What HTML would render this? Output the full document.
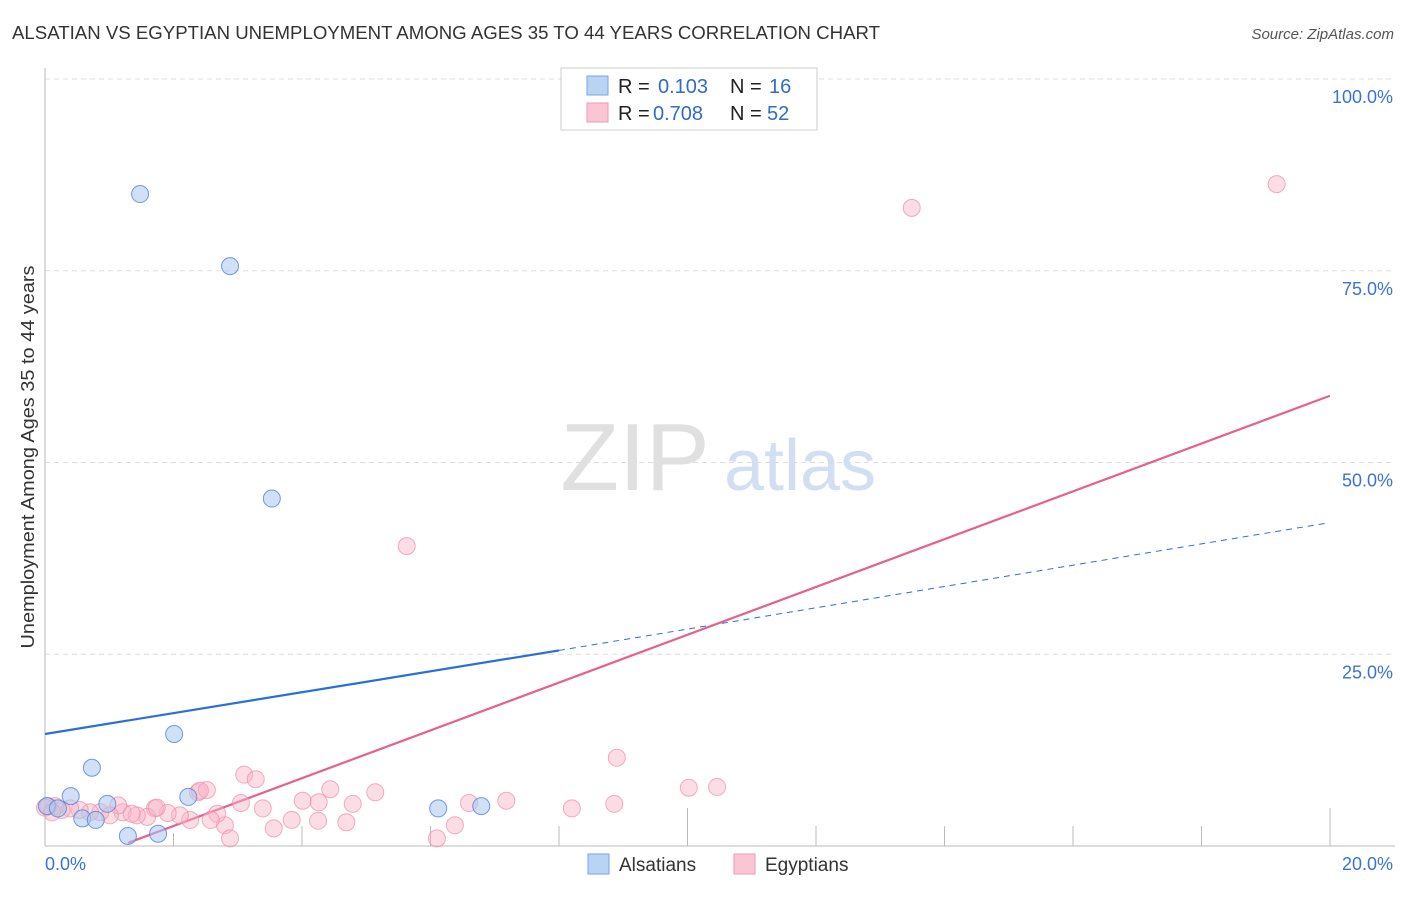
<!DOCTYPE html>
<html><head><meta charset="utf-8"><style>
body{margin:0;background:#fff;font-family:"Liberation Sans",sans-serif;}
svg text{font-family:"Liberation Sans",sans-serif;}
</style></head><body>
<svg id="chart" width="1406" height="892" xmlns="http://www.w3.org/2000/svg">
<text x="12" y="39" font-size="18" fill="#333" textLength="868" lengthAdjust="spacingAndGlyphs">ALSATIAN VS EGYPTIAN UNEMPLOYMENT AMONG AGES 35 TO 44 YEARS CORRELATION CHART</text>
<text x="1394" y="39" font-size="15" fill="#555" font-style="italic" text-anchor="end">Source: ZipAtlas.com</text>
<text x="34" y="457" font-size="18" fill="#333" text-anchor="middle" textLength="383" lengthAdjust="spacingAndGlyphs" transform="rotate(-90 34 457)">Unemployment Among Ages 35 to 44 years</text>
<g id="grid"></g>
<g id="wm">
<text x="635" y="490" font-size="96" fill="#e0e0e0" font-family="Liberation Serif" text-anchor="middle">ZIP</text>
<text x="800" y="490" font-size="72" fill="#d2dff3" text-anchor="middle">atlas</text>
</g>
<g id="axes"></g>
<g id="lines"></g>
<g id="pts"></g>
<g>
<rect x="561" y="68" width="256" height="62" fill="#fff" stroke="#ccc"/>
<rect x="587" y="76" width="21" height="19" fill="#b9d3f5" stroke="#7aa6e0"/>
<rect x="587" y="103" width="21" height="19" fill="#fac6d5" stroke="#ee9ab3"/>
<text x="618" y="93" font-size="20" fill="#222">R =</text><text x="658" y="93" font-size="20" fill="#2f6cc9">0.103</text>
<text x="730" y="93" font-size="20" fill="#222">N =</text><text x="769" y="93" font-size="20" fill="#2f6cc9">16</text>
<text x="618" y="120" font-size="20" fill="#222">R =</text><text x="653" y="120" font-size="20" fill="#2f6cc9">0.708</text>
<text x="730" y="120" font-size="20" fill="#222">N =</text><text x="767" y="120" font-size="20" fill="#2f6cc9">52</text>
</g>
<g>
<rect x="588" y="854" width="21" height="20" fill="#b9d3f5" stroke="#7aa6e0"/>
<text x="619" y="871" font-size="19" fill="#333">Alsatians</text>
<rect x="734" y="854" width="21" height="20" fill="#fac6d5" stroke="#ee9ab3"/>
<text x="765" y="871" font-size="19" fill="#333">Egyptians</text>
</g>
</svg>
<script>
const blueX=[1.48,2.88,3.53,2.01,0.73,0.40,0.03,0.20,0.97,0.58,0.79,2.23,1.29,1.76,6.12,6.79];
const blueY=[85.0,75.6,45.3,14.6,10.2,6.5,5.2,4.9,5.5,3.6,3.4,6.4,1.3,1.6,4.9,5.2];
const pinkX=[19.17,13.49,5.63,8.90,3.10,3.28,2.38,2.52,4.44,5.14,10.02,10.46,3.05,4.01,4.26,4.79,6.60,7.18,8.20,8.86,3.39,3.84,4.25,4.69,3.56,2.80,2.68,2.88,2.58,6.10,6.38,2.26,2.10,1.91,1.71,1.59,1.43,1.21,1.14,1.01,0.86,0.70,0.54,0.39,0.26,0.16,0.05,0.0,0.11,1.74,1.35,2.41];
const pinkY=[86.3,83.2,39.1,11.5,9.3,8.7,7.0,7.3,7.4,7.0,7.6,7.7,5.6,5.9,5.7,5.5,5.6,5.9,4.9,5.5,4.9,3.4,3.3,3.1,2.3,2.7,4.2,1.0,3.4,1.0,2.7,3.4,4.0,4.3,4.9,3.8,4.0,4.4,5.3,4.0,4.4,4.4,4.7,4.9,4.7,5.2,5.2,5.0,4.4,5.0,4.2,7.2];
const blueLine=[[0,14.6],[8.0,25.5],[19.95,42.1]];
const pinkLine=[[1.29,0.4],[20,58.7]];
const yTicks=[25,50,75,100];
const yTickLabels=["25.0%","50.0%","75.0%","100.0%"];
const xTicks=[2,4,6,8,10,12,14,16,18,20];
const ns="http://www.w3.org/2000/svg";
const X=v=>45+v*64.25, Y=v=>846-v*7.67;
function mk(t,a,p){const e=document.createElementNS(ns,t);for(const k in a)e.setAttribute(k,a[k]);document.getElementById(p).appendChild(e);return e;}
yTicks.forEach((t,i)=>{
  const g=mk('line',{x1:45,x2:1395,y1:Y(t),y2:Y(t),stroke:'#ddd','stroke-dasharray':'5,4'},'grid');
  
  
  const l=mk('text',{x:1393,y:Y(t)+24,'font-size':18,fill:'#3a74d0','text-anchor':'end'},'axes');
  l.textContent=yTickLabels[i];
  
  
});
const a1=mk('line',{x1:45,x2:45,y1:68,y2:846,stroke:'#bbb'},'axes');


const a2=mk('line',{x1:45,x2:1395,y1:846,y2:846,stroke:'#bbb'},'axes');


xTicks.forEach((t,i)=>{
  const top=(t===2)?833:((t===10||t===20)?808:826);
  const tk=mk('line',{x1:X(t),x2:X(t),y1:top,y2:846,stroke:'#bbb'},'axes');
  
  
});
const x0=mk('text',{x:45,y:870,'font-size':18,fill:'#3a74d0'},'axes');x0.textContent='0.0%';


const x1=mk('text',{x:1393,y:870,'font-size':18,fill:'#3a74d0','text-anchor':'end'},'axes');x1.textContent='20.0%';


pinkX.forEach((v,i)=>{
  const c=mk('circle',{cx:X(v),cy:Y(pinkY[i]),r:8.5,fill:'rgba(248,180,200,0.45)',stroke:'rgba(235,140,170,0.7)'},'pts');
  
  
});
blueX.forEach((v,i)=>{
  const c=mk('circle',{cx:X(v),cy:Y(blueY[i]),r:8.5,fill:'rgba(170,200,240,0.55)',stroke:'rgba(80,130,210,0.8)'},'pts');
  
  
});
const bl=mk('line',{x1:X(blueLine[0][0]),y1:Y(blueLine[0][1]),x2:X(blueLine[1][0]),y2:Y(blueLine[1][1]),stroke:'#2a6fd6','stroke-width':2.2},'lines');


const bd=mk('line',{x1:X(blueLine[1][0]),y1:Y(blueLine[1][1]),x2:X(blueLine[2][0]),y2:Y(blueLine[2][1]),stroke:'#2a6fd6','stroke-width':1,'stroke-dasharray':'6,5'},'lines');


const pl=mk('line',{x1:X(pinkLine[0][0]),y1:Y(pinkLine[0][1]),x2:X(pinkLine[1][0]),y2:Y(pinkLine[1][1]),stroke:'#e5618e','stroke-width':2.2},'lines');


</script>
</body></html>
